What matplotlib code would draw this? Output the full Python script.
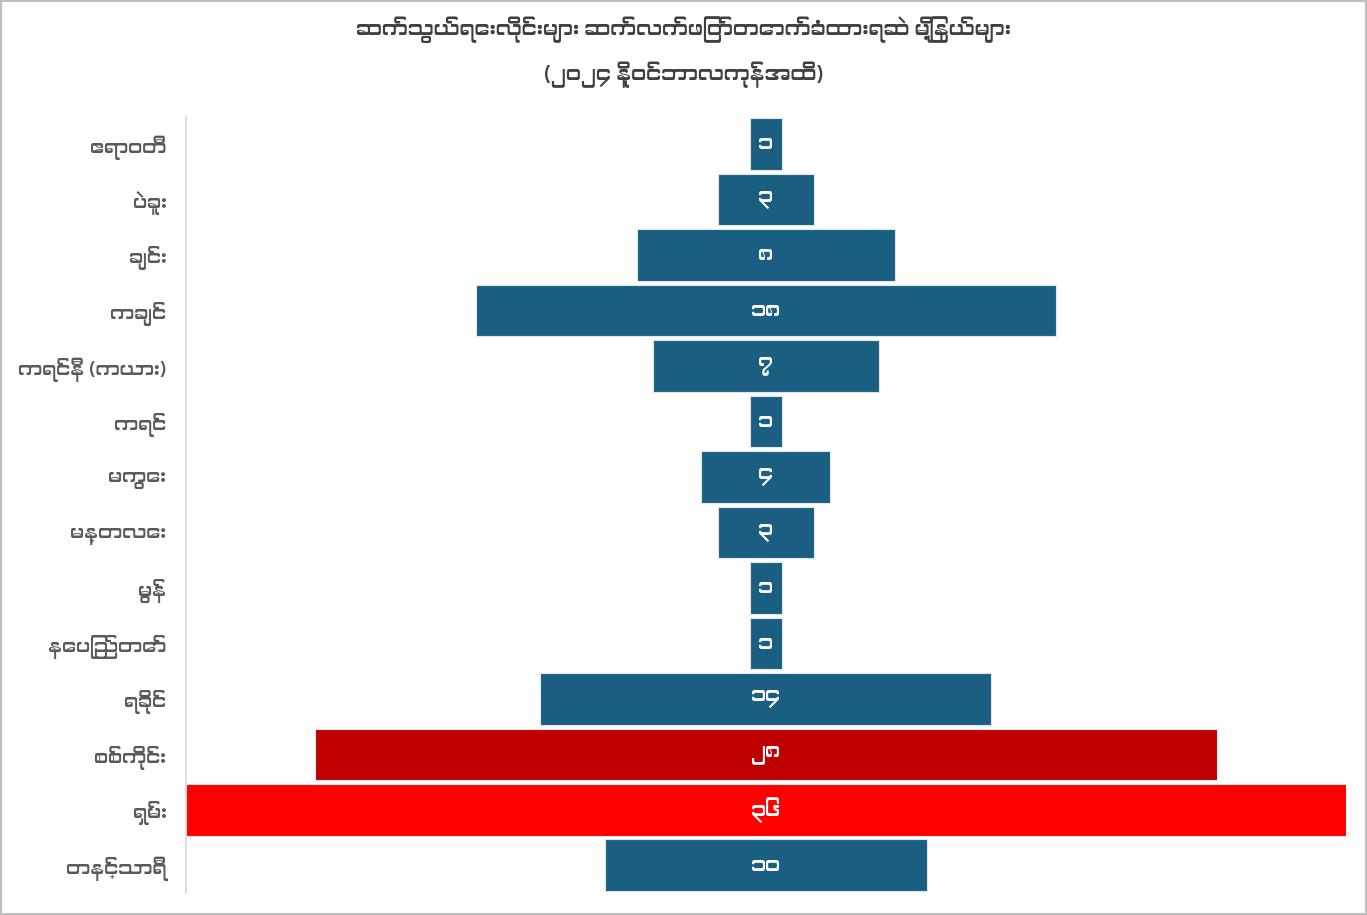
import matplotlib
matplotlib.use("Agg")
import matplotlib.pyplot as plt
from matplotlib import font_manager

# categories top to bottom, values = townships still cut off
townships = ['ဧရာဝတီ', 'ပဲခူး', 'ချင်း', 'ကချင်', 'ကရင်နီ (ကယား)', 'ကရင်', 'မကွေး',
             'မန္တလေး', 'မွန်', 'နေပြည်တော်', 'ရခိုင်', 'စစ်ကိုင်း', 'ရှမ်း', 'တနင်္သာရီ']
counts = [1, 3, 8, 18, 7, 1, 4, 3, 1, 1, 14, 28, 36, 10]
count_labels = ['၁', '၃', '၈', '၁၈', '၇', '၁', '၄', '၃', '၁', '၁', '၁၄', '၂၈', '၃၆', '၁၀']
bar_colors = ['#1a5f82'] * 11 + ['#c00000', '#ff0000', '#1a5f82']

title = 'ဆက်သွယ်ရေးလိုင်းများ ဆက်လက်ဖြတ်တောက်ခံထားရဆဲ မြို့နယ်များ\n(၂၀၂၄ နိုဝင်ဘာလကုန်အထိ)'


def find_myanmar_font():
    # look for an installed font that has Myanmar glyphs
    try:
        from fontTools.ttLib import TTFont
    except ImportError:
        return None
    found = []
    for f in font_manager.fontManager.ttflist:
        try:
            tt = TTFont(f.fname, fontNumber=0, lazy=True)
            cmap = tt.getBestCmap()
            if cmap and 0x1000 in cmap and 0x1041 in cmap:
                found.append(f.name)
        except Exception:
            continue
    if not found:
        return None
    found.sort(key=lambda n: ('Myanmar' not in n, 'UI' in n, n))
    return found[0]


mm_font = find_myanmar_font()
fams = ([mm_font] if mm_font else []) + ['Noto Sans', 'DejaVu Sans']
plt.rcParams['font.family'] = fams

fig = plt.figure(figsize=(13.67, 9.15), dpi=100)
ax = fig.add_axes([0.136, 0.024, 0.8486, 0.849])

y = list(range(len(townships)))
lefts = [-c / 2 for c in counts]
ax.barh(y, counts, left=lefts, height=0.93, color=bar_colors,
        edgecolor='#dce6ec', linewidth=0.8)

for i in range(len(y)):
    ax.text(0, y[i], count_labels[i], ha='center', va='center',
            color='white', fontsize=15)

ax.set_xlim(-18, 18)
ax.set_ylim(len(y) - 0.5, -0.5)
ax.set_yticks(y)
ax.set_yticklabels(townships, fontsize=14, color='#595959')
ax.tick_params(axis='y', length=0, pad=14)
ax.set_xticks([])
for s in ['top', 'right', 'bottom']:
    ax.spines[s].set_visible(False)
ax.spines['left'].set_color('#d9d9d9')
ax.spines['left'].set_linewidth(1.2)

fig.text(0.5, 0.982, title, ha='center', va='top', fontsize=15,
         fontweight='bold', color='#404040', linespacing=2.0)

# outer chart border
fig.add_artist(plt.Rectangle((0.001, 0.001), 0.998, 0.998, transform=fig.transFigure,
                             fill=False, edgecolor='#bfbfbf', linewidth=1.5))

fig.savefig('out.png', dpi=100, facecolor='white')
